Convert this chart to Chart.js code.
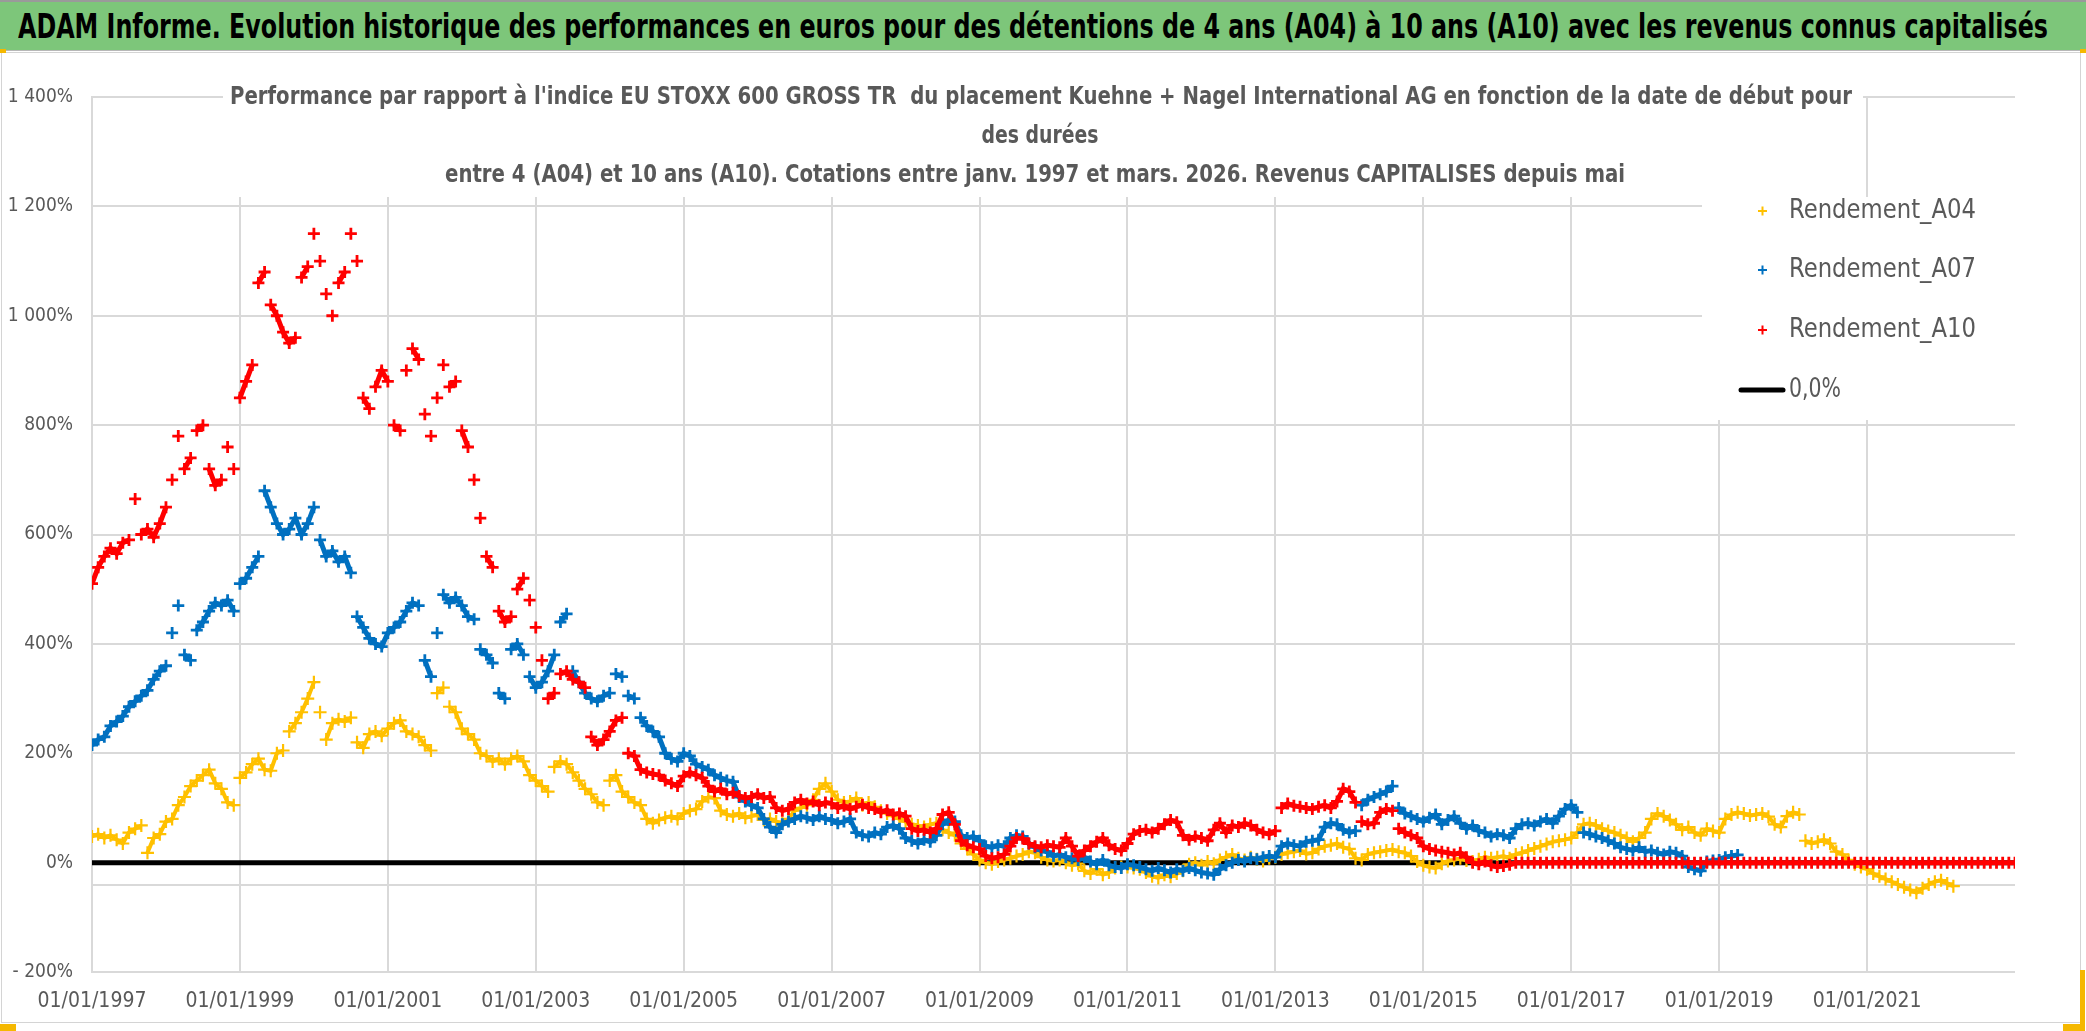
<!DOCTYPE html>
<html>
<head>
<meta charset="utf-8">
<script src="https://cdn.jsdelivr.net/npm/chart.js@4.4.1/dist/chart.umd.min.js"></script>
<style>
  html, body { margin: 0; padding: 0; background: #fff; }
  body { width: 2086px; height: 1031px; position: relative; overflow: hidden; }
  #wrap { position: absolute; left: 0; top: 0; width: 2086px; height: 1031px; }
  #header { position: absolute; left: 0; top: 0; width: 2086px; height: 48px; background: #7DC67A;
            border-top: 2px solid #9A9A9A; border-bottom: 1px solid #B8B8B8; z-index: 3; overflow: hidden; }
  #htext { position: absolute; left: 18px; top: 4px; white-space: nowrap; font-weight: bold; font-size: 34px;
           line-height: 40px; color: #000; transform-origin: 0 50%;
           font-family: "Liberation Sans Narrow", "DejaVu Sans Condensed", "Open Sans", sans-serif; }
  #frame { position: absolute; left: 1px; top: 52px; width: 2078px; height: 969px; border: 1px solid #D4D4D4;
           z-index: 2; pointer-events: none; }
  .gold { position: absolute; background: #F5B800; z-index: 4; }
</style>
</head>
<body>
<div id="wrap"><canvas id="c" width="2086" height="1031"></canvas></div>
<div id="header"><span id="htext">ADAM Informe. Evolution historique des performances en euros pour des détentions de 4 ans (A04) à 10 ans (A10) avec les revenus connus capitalisés</span></div>
<div id="frame"></div>
<div class="gold" style="left:0;top:49px;width:6px;height:4px"></div>
<div class="gold" style="left:2080px;top:49px;width:6px;height:4px"></div>
<div class="gold" style="left:0;top:1024px;width:16px;height:7px"></div>
<div class="gold" style="left:2080px;top:970px;width:5px;height:61px"></div>
<div class="gold" style="left:2063px;top:1024px;width:22px;height:7px"></div>
<script>
// ---------------- DATA ----------------
const startYear = 1997;          // first start date: 01/01/1997, one value per month
const xMin = 1997, xMax = 2023;  // x axis range (years)
const xStep = 2;
const yMin = -200, yMax = 1400, yStep = 200;
const extraGridValue = -40;

const seriesNames = ['Rendement_A04', 'Rendement_A07', 'Rendement_A10', '0,0%'];

const rendementA04 = [
  48, 52, 45, 50, 42, 35, 55, 62, 68, 18, 45, 52,
  75, 80, 105, 120, 140, 150, 160, 170, 145, 135, 110, 105,
  155, 165, 180, 190, 170, 168, 200, 205, 240, 255, 275, 300,
  330, 275, 225, 255, 262, 258, 265, 220, 210, 235, 240, 232,
  245, 255, 260, 240, 235, 230, 215, 205, 310, 320, 285, 275,
  245, 235, 225, 200, 195, 185, 190, 180, 190, 195, 185, 160,
  150, 140, 130, 175, 185, 180, 165, 150, 135, 125, 110, 105,
  150, 160, 130, 120, 110, 105, 80, 72, 78, 82, 85, 80,
  90, 95, 98, 112, 120, 118, 95, 88, 85, 90, 82, 85,
  88, 78, 80, 75, 72, 80, 95, 100, 105, 115, 135, 145,
  130, 115, 110, 112, 118, 105, 110, 102, 95, 90, 85, 80,
  75, 70, 68, 65, 70, 72, 60, 55, 50, 35, 25, 15,
  5, 0, -3, 2, 5, 8, 12, 15, 20, 18, 10, 5,
  3, 5, 0, -5, -2, -15, -20, -12, -22, -18, -10, -8,
  -8, -10, -12, -18, -25, -28, -22, -26, -20, -15, -3, 0,
  -5, 2, -2, 5, 10, 15, 8, 5, 10, 6, 3, 8,
  10, 15, 18, 20, 22, 16, 18, 25, 30, 32, 35, 28,
  25, 8, 5, 15, 18, 20, 22, 24, 20, 18, 12, 2,
  -5, -8, -10, -2, 3, 5, 8, 4, 2, 6, 10, 8,
  10, 12, 8, 15, 18, 22, 26, 30, 34, 38, 40, 42,
  45, 55, 70, 72, 68, 62, 58, 55, 50, 45, 38, 45,
  55, 80, 90, 85, 78, 70, 60, 65, 55, 50, 62, 58,
  55, 80, 88, 92, 90, 86, 88, 90, 84, 70, 65, 85,
  92, 88, 40, 35, 38, 42, 35, 20, 15, 5, -3, -8,
  -12, -20, -25, -30, -35, -40, -45, -50, -55, -47, -40, -35,
  -32, -38, -43
];

const rendementA07 = [
  215, 225, 230, 250, 258, 268, 285, 295, 305, 315, 335, 350,
  360, 420, 470, 380, 370, 425, 440, 460, 475, 470, 480, 460,
  510, 520, 540, 560, 680, 650, 620, 600, 610, 630, 600, 620,
  650, 590, 560, 570, 550, 560, 530, 450, 430, 410, 400, 395,
  420, 430, 440, 460, 475, 470, 370, 340, 420, 490, 475, 485,
  470, 450, 445, 390, 380, 365, 310, 300, 390, 400, 380, 340,
  320, 330, 350, 380, 440, 455, 350, 330, 310, 300, 295, 305,
  310, 345, 340, 305, 300, 265, 250, 240, 230, 200, 190, 185,
  200, 195, 180, 175, 170, 160, 155, 150, 148, 120, 112, 105,
  100, 80, 65, 55, 70, 75, 80, 85, 82, 78, 85, 80,
  78, 72, 75, 80, 55, 50, 48, 55, 52, 65, 68, 62,
  45, 40, 35, 42, 38, 50, 70, 78, 75, 50, 45, 48,
  40, 30, 28, 32, 30, 45, 50, 48, 35, 28, 22, 20,
  12, 15, 10, 8, 5, 10, 2, -3, 5, -5, -8, -10,
  -3, -5, -8, -12, -15, -10, -14, -18, -12, -15, -10, -14,
  -18, -20, -22, -12, -5, 0, 5, 2, 8, 6, 10, 12,
  10, 30, 35, 32, 30, 38, 40, 42, 65, 72, 70, 60,
  55, 58, 105, 115, 120, 125, 130, 140, 100, 90, 85, 80,
  75, 82, 88, 70, 78, 85, 72, 62, 68, 58, 55, 48,
  52, 50, 45, 62, 70, 72, 68, 75, 80, 72, 85, 98,
  105, 92, 55, 52, 48, 45, 40, 35, 28, 25, 22, 28,
  20, 22, 18, 15, 20, 18, 12, -8, -12, -15, 2, 4,
  5, 10, 12, 14
];

const rendementA10 = [
  510, 540, 560, 575, 565, 585, 590, 665, 600, 610, 595, 620,
  650, 700, 780, 720, 740, 790, 800, 720, 690, 700, 760, 720,
  850, 880, 910, 1060, 1080, 1020, 1000, 970, 950, 960, 1070, 1090,
  1150, 1100, 1040, 1000, 1060, 1080, 1150, 1100, 850, 830, 870, 900,
  880, 800, 790, 900, 940, 920, 820, 780, 850, 910, 870, 880,
  790, 760, 700, 630, 560, 540, 460, 440, 450, 500, 520, 480,
  430, 370, 300, 310, 345, 350, 335, 330, 320, 230, 215, 225,
  240, 260, 265, 200, 195, 170, 165, 162, 160, 150, 145, 140,
  158, 165, 160, 155, 140, 130, 135, 125, 128, 122, 118, 120,
  125, 118, 120, 100, 95, 98, 110, 115, 108, 112, 105, 110,
  108, 100, 104, 98, 102, 106, 100, 98, 92, 96, 88, 90,
  85, 62, 58, 60, 55, 62, 88, 92, 70, 40, 32, 28,
  25, 12, 8, 10, 15, 30, 45, 44, 35, 30, 28, 32,
  30, 28, 45, 30, 12, 22, 30, 38, 45, 32, 25, 22,
  35, 52, 58, 60, 55, 62, 70, 78, 74, 50, 42, 48,
  45, 40, 60, 72, 55, 68, 65, 72, 68, 60, 55, 52,
  58, 100, 108, 104, 102, 100, 98, 102, 105, 100, 112, 135,
  130, 110, 75, 70, 72, 92, 98, 95, 62, 55, 50, 45,
  30, 25, 22, 20, 18, 15, 18, 10, 0, -3, 2, -5,
  -8, -6, -4, 0, 0, 0, 0, 0, 0, 0, 0, 0,
  0, 0, 0, 0, 0, 0, 0, 0, 0, 0, 0, 0,
  0, 0, 0, 0, 0, 0, 0, 0, 0, 0, 0, 0,
  0, 0, 0, 0, 0, 0, 0, 0, 0, 0, 0, 0,
  0, 0, 0, 0, 0, 0, 0, 0, 0, 0, 0, 0,
  0, 0, 0, 0, 0, 0, 0, 0, 0, 0, 0, 0,
  0, 0, 0, 0, 0, 0, 0, 0, 0, 0, 0, 0,
  0
];

const zeroLineX = [1997, 2023];
const zeroLineY = [0, 0];

const chartTitleLines = [
  "Performance par rapport à l'indice EU STOXX 600 GROSS TR  du placement Kuehne + Nagel International AG en fonction de la date de début pour",
  "des durées",
  "entre 4 (A04) et 10 ans (A10). Cotations entre janv. 1997 et mars. 2026. Revenus CAPITALISES depuis mai"
];

// ---------------- STYLE ----------------
const FONT = '"Liberation Sans Narrow", "DejaVu Sans Condensed", "Open Sans", sans-serif';
const TEXT_GRAY = '#595959';
const GRID = '#D9D9D9';
const COLORS = ['#FFC000', '#0070C0', '#FF0000', '#000000'];
const TRANSPARENT = 'rgba(0,0,0,0)';

function toPoints(values) {
  return values.map((v, i) => ({ x: startYear + i / 12, y: v }));
}

function fmtPct(v) {
  const a = Math.abs(v);
  const s = String(a).replace(/\B(?=(\d{3})+(?!\d))/g, ' ');
  return (v < 0 ? '- ' : '') + s + '%';
}

// title + legend overlay, drawn like Excel (white boxes over the plot area)
const overlayPlugin = {
  id: 'excelOverlay',
  beforeDatasetsDraw(chart) {
    const ctx = chart.ctx;
    ctx.save();
    ctx.fillStyle = '#ffffff';
    ctx.fillRect(223, 62, 1640, 135);
    ctx.fillRect(1702, 197, 316, 223);

    // title
    ctx.fillStyle = TEXT_GRAY;
    ctx.textBaseline = 'alphabetic';
    const tl = [
      { cx: 1041, y: 104, w: 1622 },
      { cx: 1040, y: 143, w: 117 },
      { cx: 1035, y: 182, w: 1180 }
    ];
    ctx.font = 'bold 24px ' + FONT;
    chartTitleLines.forEach((t, i) => {
      const m = ctx.measureText(t).width;
      ctx.save();
      ctx.translate(tl[i].cx, tl[i].y);
      ctx.scale(tl[i].w / m, 1);
      ctx.textAlign = 'center';
      ctx.fillText(t, 0, 0);
      ctx.restore();
    });

    // legend
    const ly = [211, 270, 330, 390];
    ctx.font = '27px ' + FONT;
    ctx.textBaseline = 'middle';
    ctx.textAlign = 'left';
    seriesNames.forEach((name, i) => {
      const y = ly[i];
      if (i < 3) {
        ctx.strokeStyle = COLORS[i];
        ctx.lineWidth = 2;
        ctx.beginPath();
        ctx.moveTo(1758, y); ctx.lineTo(1767, y);
        ctx.moveTo(1762.5, y - 4.5); ctx.lineTo(1762.5, y + 4.5);
        ctx.stroke();
      } else {
        ctx.strokeStyle = '#000';
        ctx.lineWidth = 5;
        ctx.lineCap = 'round';
        ctx.beginPath();
        ctx.moveTo(1741, y); ctx.lineTo(1783, y);
        ctx.stroke();
      }
      ctx.fillStyle = TEXT_GRAY;
      const m = ctx.measureText(name).width;
      const target = i < 3 ? 187 : 52;
      ctx.save();
      ctx.translate(1789, y);
      ctx.scale(target / m, 1);
      ctx.fillText(name, 0, 0);
      ctx.restore();
    });
    ctx.restore();
  }
};

// dense "+" clouds of the reference: crosses, joined by a band only where consecutive values stay close
const scatterStyle = (i) => ({
  showLine: true,
  borderWidth: i === 0 ? 4 : 5,
  tension: 0,
  segment: {
    borderColor: (c) => (Math.abs(c.p1.parsed.y - c.p0.parsed.y) > 32 ? TRANSPARENT : COLORS[i])
  },
  pointStyle: 'cross',
  pointRadius: i === 0 ? 6.5 : 6,
  pointBorderWidth: i === 0 ? 2.2 : 2.8,
  borderColor: COLORS[i],
  backgroundColor: COLORS[i],
  pointHoverRadius: 6
});

new Chart(document.getElementById('c'), {
  type: 'scatter',
  data: {
    datasets: [
      Object.assign({ label: seriesNames[0], data: toPoints(rendementA04), order: 3 }, scatterStyle(0)),
      Object.assign({ label: seriesNames[1], data: toPoints(rendementA07), order: 2 }, scatterStyle(1)),
      Object.assign({ label: seriesNames[2], data: toPoints(rendementA10), order: 1 }, scatterStyle(2)),
      {
        type: 'line', label: seriesNames[3],
        data: zeroLineX.map((x, i) => ({ x: x, y: zeroLineY[i] })),
        borderColor: '#000', borderWidth: 5, pointRadius: 0, showLine: true, order: 4
      }
    ]
  },
  options: {
    responsive: false,
    animation: false,
    devicePixelRatio: 1,
    layout: { padding: { left: 0, right: 71, top: 97, bottom: 0 } },
    plugins: { legend: { display: false }, title: { display: false }, tooltip: { enabled: false } },
    scales: {
      x: {
        type: 'linear', min: xMin, max: xMax,
        afterFit(s) { s.height = 59; },
        ticks: {
          stepSize: xStep, padding: 17, color: TEXT_GRAY, maxRotation: 0, autoSkip: false,
          font: { family: FONT, size: 21 },
          callback: (v) => (v < xMax ? '01/01/' + v : '')
        },
        grid: {
          drawTicks: false, lineWidth: 2,
          color: (c) => (c.tick && c.tick.value >= xMax ? TRANSPARENT : GRID)
        },
        border: { display: false }
      },
      y: {
        min: yMin, max: yMax,
        afterFit(s) { s.width = 92; },
        afterBuildTicks(s) {
          s.ticks.push({ value: extraGridValue });
          s.ticks.sort((a, b) => a.value - b.value);
        },
        ticks: {
          stepSize: yStep, padding: 19, color: TEXT_GRAY,
          font: { family: FONT, size: 19 },
          callback: (v) => (v === extraGridValue ? '' : fmtPct(v))
        },
        grid: { drawTicks: false, lineWidth: 2, color: GRID },
        border: { display: true, color: GRID, width: 2 }
      }
    }
  },
  plugins: [overlayPlugin]
});

// fit the header text width like the reference
(function () {
  const el = document.getElementById('htext');
  const w = el.getBoundingClientRect().width;
  el.style.transform = 'scaleX(' + (2030 / w) + ')';
})();
</script>
</body>
</html>
